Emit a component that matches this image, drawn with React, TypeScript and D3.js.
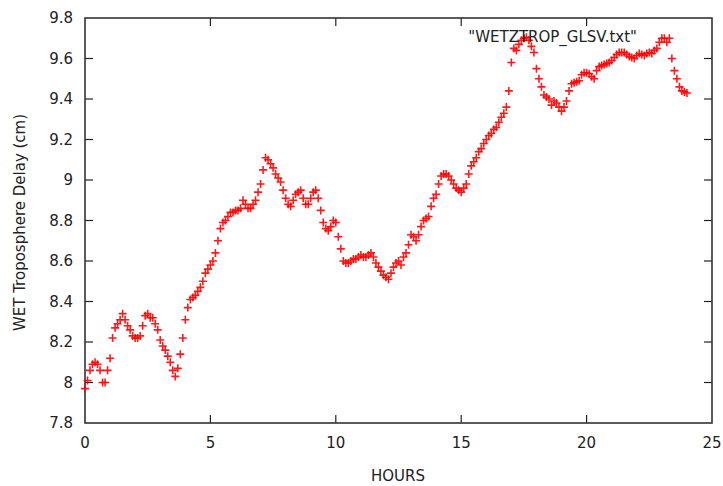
import React, { useEffect, useRef } from 'react';
import * as d3 from 'd3';

// wet troposphere delay, one sample every 0.1 h starting at 0 h
const START_HOUR = 0;
const STEP_HOURS = 0.1;
const delay = [
  7.97, 8.01, 8.06, 8.09, 8.1, 8.09, 8.06, 8.0, 8.0, 8.06,
  8.12, 8.22, 8.27, 8.29, 8.31, 8.34, 8.31, 8.28, 8.26, 8.23,
  8.22, 8.22, 8.23, 8.28, 8.33, 8.34, 8.32, 8.32, 8.29, 8.26,
  8.21, 8.18, 8.16, 8.13, 8.1, 8.06, 8.03, 8.07, 8.14, 8.22,
  8.31, 8.37, 8.41, 8.42, 8.43, 8.45, 8.47, 8.5, 8.54, 8.56,
  8.58, 8.6, 8.64, 8.7, 8.76, 8.79, 8.8, 8.82, 8.84, 8.84,
  8.85, 8.85, 8.86, 8.9, 8.88, 8.86, 8.86, 8.88, 8.9, 8.94,
  8.98, 9.05, 9.11, 9.1, 9.08, 9.06, 9.03, 9.01, 8.99, 8.95,
  8.91, 8.88, 8.87, 8.9, 8.93, 8.94, 8.95, 8.91, 8.88, 8.88,
  8.91, 8.94, 8.95, 8.91, 8.85, 8.79, 8.76, 8.75, 8.77, 8.8,
  8.79, 8.72, 8.66, 8.6, 8.59, 8.59, 8.6, 8.61, 8.61, 8.62,
  8.63, 8.62, 8.62, 8.63, 8.64, 8.62, 8.59, 8.57, 8.55, 8.53,
  8.52, 8.51, 8.54, 8.57, 8.59, 8.6, 8.58, 8.62, 8.64, 8.68,
  8.73, 8.72, 8.7, 8.73, 8.77, 8.8, 8.81, 8.82, 8.87, 8.91,
  8.93, 8.98, 9.02, 9.03, 9.03, 9.02, 9.0, 8.98, 8.96, 8.95,
  8.94, 8.96, 8.98, 9.03, 9.07, 9.09, 9.11, 9.14, 9.155, 9.18,
  9.2, 9.22, 9.23, 9.25, 9.26, 9.285, 9.31, 9.33, 9.36, 9.44,
  9.58, 9.65, 9.64, 9.67, 9.69, 9.7, 9.705, 9.69, 9.66, 9.63,
  9.55, 9.5, 9.46, 9.42, 9.41, 9.4, 9.37, 9.39, 9.38, 9.36,
  9.34, 9.36, 9.39, 9.44, 9.475, 9.48, 9.485, 9.49, 9.52, 9.53,
  9.53, 9.525, 9.51, 9.5, 9.54, 9.56, 9.565, 9.57, 9.575, 9.58,
  9.59, 9.605, 9.62, 9.63, 9.63, 9.63, 9.62, 9.61, 9.605, 9.6,
  9.615, 9.625, 9.62, 9.615, 9.625, 9.63, 9.625, 9.64, 9.65, 9.68,
  9.7, 9.7, 9.68, 9.7, 9.6, 9.54, 9.5, 9.46, 9.44, 9.435,
  9.43,
];

const xTicks = [0, 5, 10, 15, 20, 25];
const yTicks = [7.8, 8, 8.2, 8.4, 8.6, 8.8, 9, 9.2, 9.4, 9.6, 9.8];
const seriesName = '"WETZTROP_GLSV.txt"';

const App = () => {
  const ref = useRef(null);

  useEffect(() => {
    document.body.style.margin = '0';
    const svg = d3.select(ref.current);
    svg.selectAll('*').remove();

    const left = 85, right = 712, top = 18, bottom = 423;
    const x = d3.scaleLinear().domain([0, 25]).range([left, right]);
    const y = d3.scaleLinear().domain([7.8, 9.8]).range([bottom, top]);
    const font = 'DejaVu Sans, sans-serif';
    const fs = '15px';
    const tickLen = 8;

    const g = svg.append('g');

    // inward ticks on all four sides
    xTicks.slice(1, -1).forEach((t) => {
      g.append('line').attr('x1', x(t)).attr('x2', x(t)).attr('y1', bottom).attr('y2', bottom - tickLen)
        .attr('stroke', '#222').attr('stroke-width', 1.2);
      g.append('line').attr('x1', x(t)).attr('x2', x(t)).attr('y1', top).attr('y2', top + tickLen)
        .attr('stroke', '#222').attr('stroke-width', 1.2);
    });
    yTicks.slice(1, -1).forEach((t) => {
      g.append('line').attr('x1', left).attr('x2', left + tickLen).attr('y1', y(t)).attr('y2', y(t))
        .attr('stroke', '#222').attr('stroke-width', 1.2);
      g.append('line').attr('x1', right).attr('x2', right - tickLen).attr('y1', y(t)).attr('y2', y(t))
        .attr('stroke', '#222').attr('stroke-width', 1.2);
    });

    g.append('rect')
      .attr('x', left).attr('y', top)
      .attr('width', right - left).attr('height', bottom - top)
      .attr('fill', 'none').attr('stroke', '#333').attr('stroke-width', 1.6);

    g.selectAll('.xlab').data(xTicks).enter().append('text')
      .attr('x', (d) => x(d)).attr('y', 448)
      .attr('text-anchor', 'middle')
      .style('font-family', font).style('font-size', fs).attr('fill', '#222')
      .text((d) => String(d));

    g.selectAll('.ylab').data(yTicks).enter().append('text')
      .attr('x', 73).attr('y', (d) => y(d)).attr('dy', '0.35em')
      .attr('text-anchor', 'end')
      .style('font-family', font).style('font-size', fs).attr('fill', '#222')
      .text((d) => String(d));

    g.append('text')
      .attr('x', 398).attr('y', 481)
      .attr('text-anchor', 'middle')
      .style('font-family', font).style('font-size', fs).attr('fill', '#222')
      .text('HOURS');

    g.append('text')
      .attr('transform', `translate(25,${(top + bottom) / 2 + 2}) rotate(-90)`)
      .attr('text-anchor', 'middle')
      .style('font-family', font).style('font-size', fs).attr('fill', '#222')
      .text('WET Troposphere Delay (cm)');

    const s = 4;
    const pts = g.selectAll('.pt').data(delay).enter().append('path')
      .attr('class', 'pt')
      .attr('transform', (d, i) => `translate(${x(START_HOUR + i * STEP_HOURS)},${y(d)})`)
      .attr('d', `M${-s},0H${s}M0,${-s}V${s}`)
      .attr('stroke', '#ff0000').attr('stroke-width', 1.6).attr('fill', 'none')
      .attr('opacity', 0.9);

    g.append('text')
      .attr('x', 637).attr('y', 37).attr('dy', '0.35em')
      .attr('text-anchor', 'end')
      .style('font-family', font).style('font-size', fs).attr('fill', '#222')
      .text(seriesName);
    return () => { pts.remove(); };
  }, []);

  return <svg ref={ref} width={723} height={486} style={{ display: 'block' }} />;
};

export default App;
